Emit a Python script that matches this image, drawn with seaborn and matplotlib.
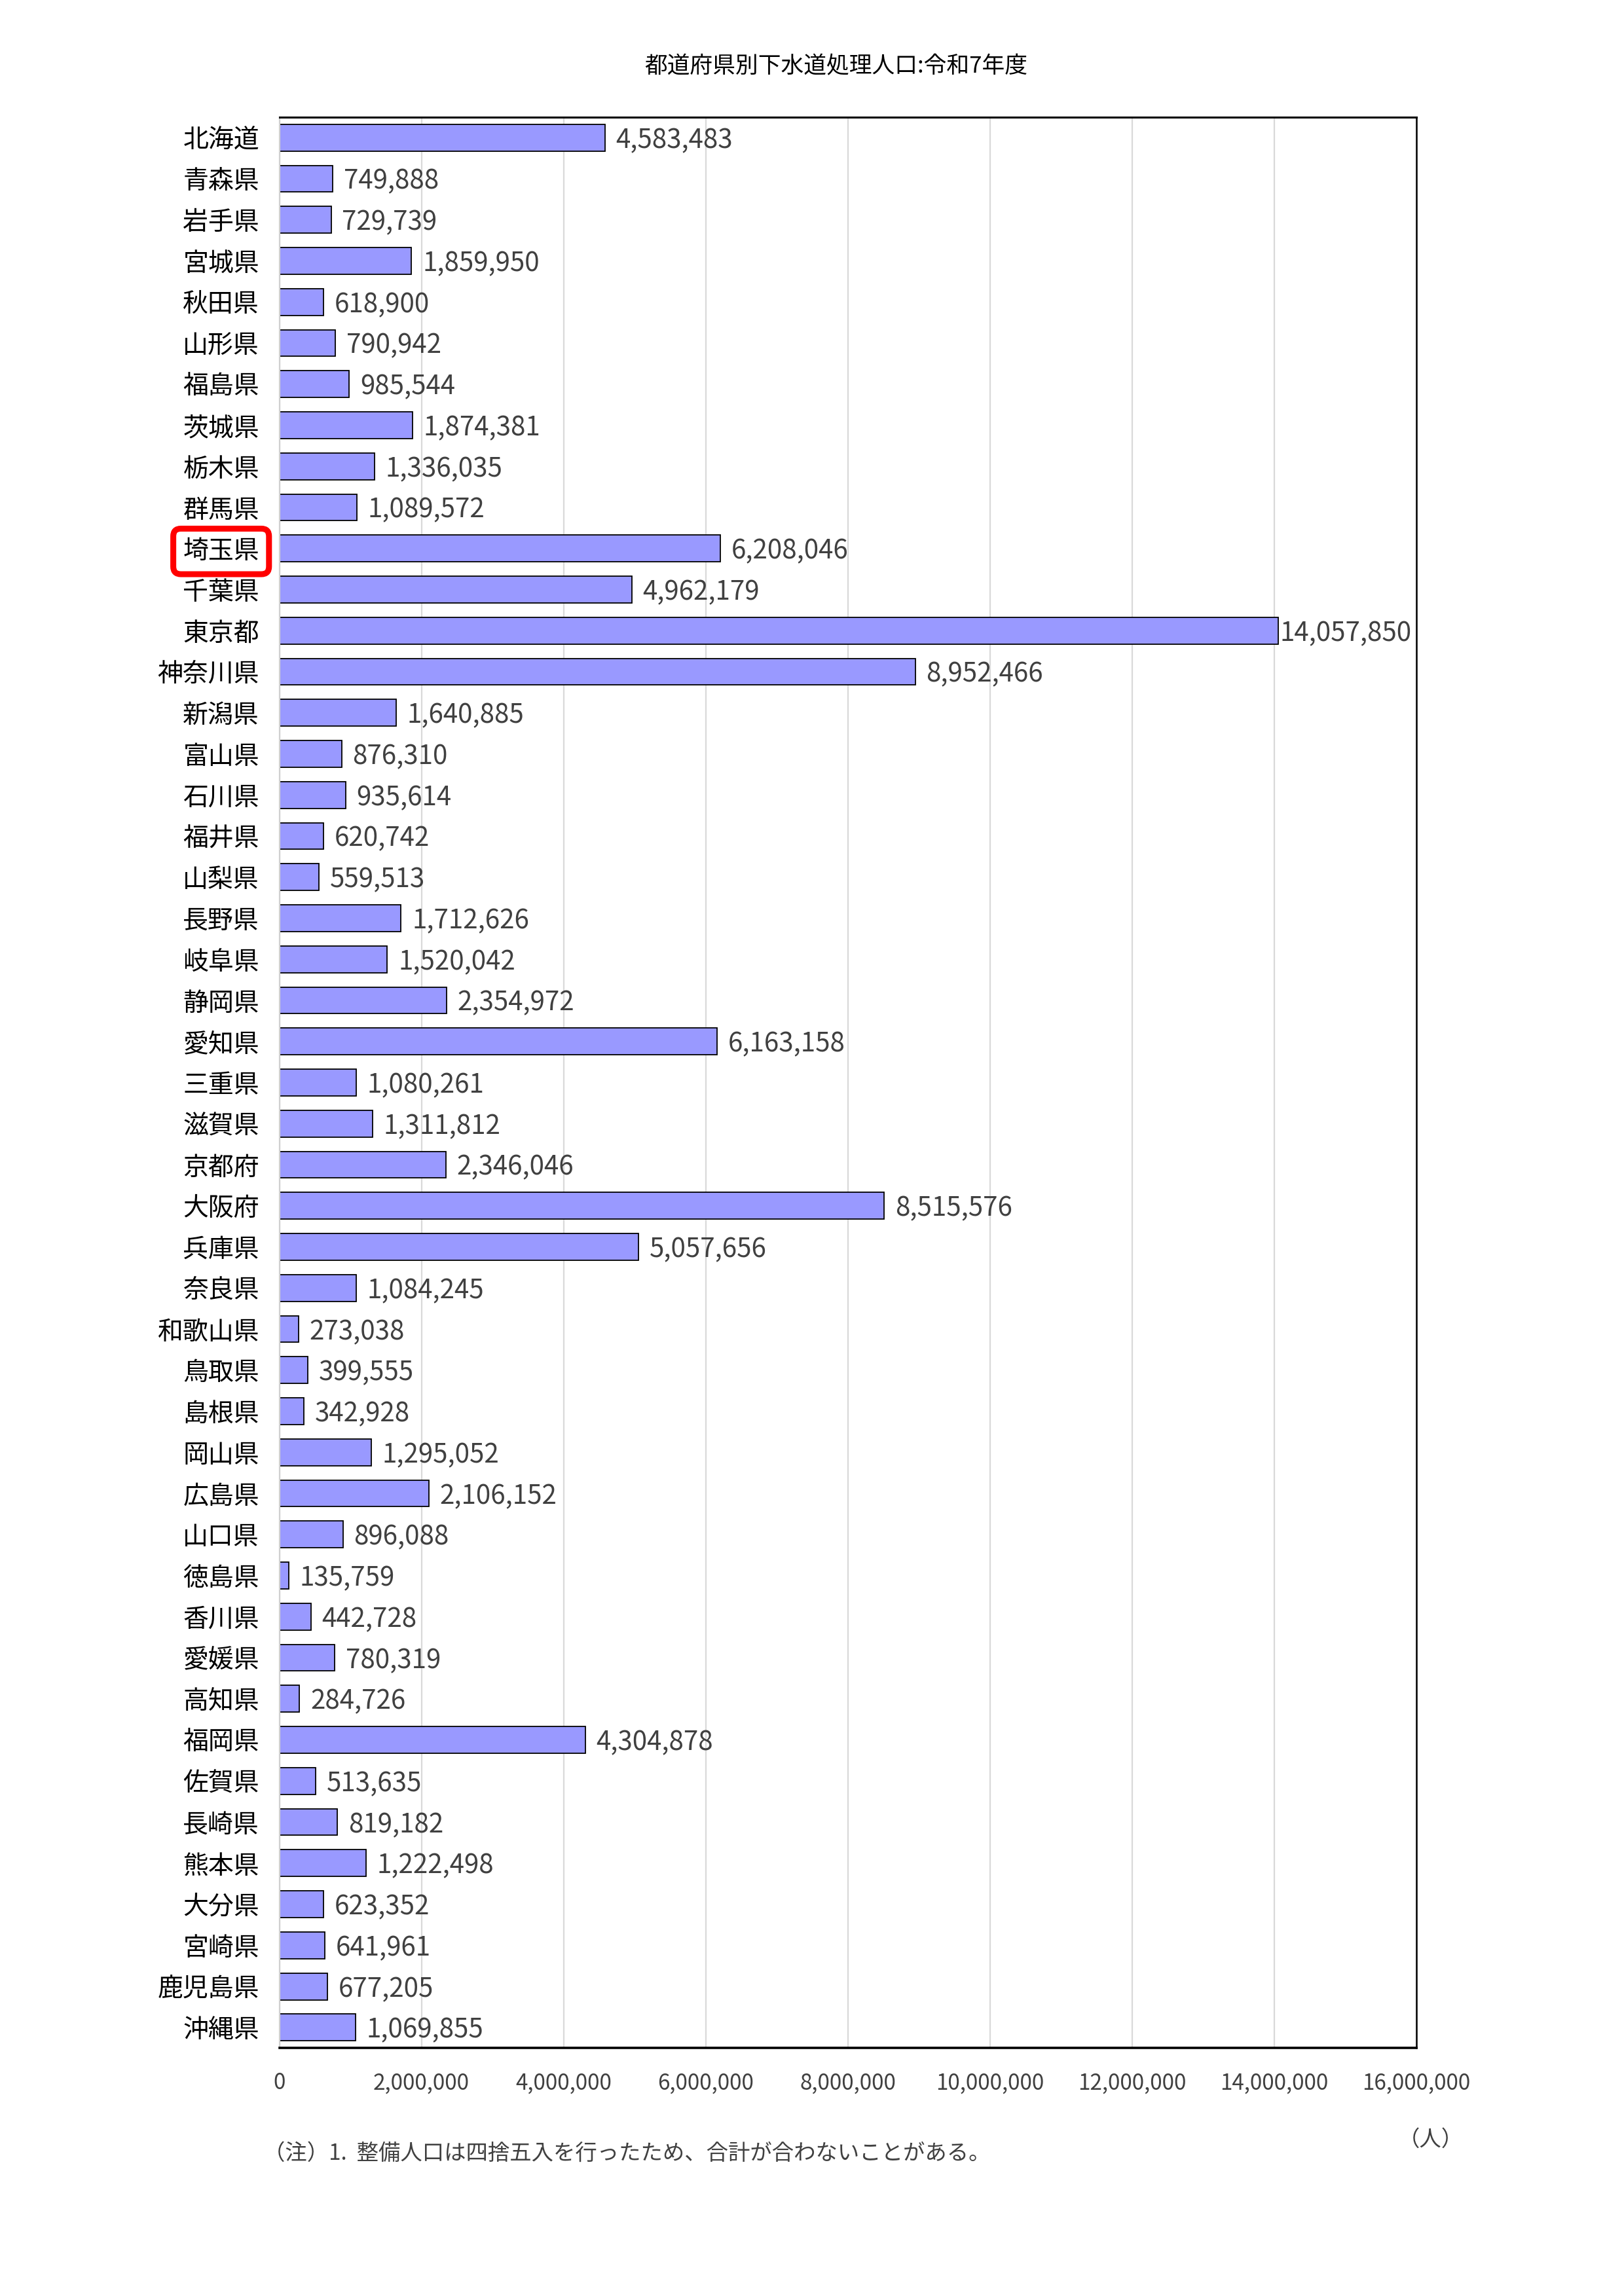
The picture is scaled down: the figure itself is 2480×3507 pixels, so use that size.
import seaborn as sns
import numpy as np
import pandas as pd
import matplotlib.pyplot as plt
from matplotlib.ticker import FuncFormatter

sns.set_theme(style="white")
plt.rcParams['font.family'] = ['Noto Sans CJK JP', 'DejaVu Sans']

prefs = ['北海道', '青森県', '岩手県', '宮城県', '秋田県', '山形県', '福島県',
         '茨城県', '栃木県', '群馬県', '埼玉県', '千葉県', '東京都', '神奈川県',
         '新潟県', '富山県', '石川県', '福井県', '山梨県', '長野県', '岐阜県',
         '静岡県', '愛知県', '三重県', '滋賀県', '京都府', '大阪府', '兵庫県',
         '奈良県', '和歌山県', '鳥取県', '島根県', '岡山県', '広島県', '山口県',
         '徳島県', '香川県', '愛媛県', '高知県', '福岡県', '佐賀県', '長崎県',
         '熊本県', '大分県', '宮崎県', '鹿児島県', '沖縄県']
population = [4583483, 749888, 729739, 1859950, 618900, 790942, 985544,
              1874381, 1336035, 1089572, 6208046, 4962179, 14057850, 8952466,
              1640885, 876310, 935614, 620742, 559513, 1712626, 1520042,
              2354972, 6163158, 1080261, 1311812, 2346046, 8515576, 5057656,
              1084245, 273038, 399555, 342928, 1295052, 2106152, 896088,
              135759, 442728, 780319, 284726, 4304878, 513635, 819182,
              1222498, 623352, 641961, 677205, 1069855]
highlight = '埼玉県'

df = pd.DataFrame({'pref': prefs, 'pop': population})

fig = plt.figure(figsize=(24.8, 35.07), dpi=100)
ax = fig.add_axes([0.172, 0.108, 0.700, 0.841])

sns.barplot(data=df, x='pop', y='pref', orient='h', color='#9999FF',
            saturation=1, edgecolor='black', linewidth=1.3, width=0.65, ax=ax)

ax.set_xlim(0, 16000000)
ax.set_xticks(np.arange(0, 16000001, 2000000))
ax.xaxis.set_major_formatter(FuncFormatter(lambda v, p: f'{int(v):,}'))
ax.set_xlabel('')
ax.set_ylabel('')
ax.grid(axis='x', color='#d9d9d9', linewidth=1.6)
ax.set_axisbelow(True)

ax.tick_params(axis='y', length=0, pad=22, labelsize=28, labelcolor='black')
ax.tick_params(axis='x', length=0, pad=26, labelsize=24, labelcolor='#404040')

for side in ['top', 'right', 'bottom']:
    ax.spines[side].set_color('black')
ax.spines['top'].set_linewidth(2.2)
ax.spines['bottom'].set_linewidth(2.6)
ax.spines['right'].set_linewidth(1.8)
ax.spines['left'].set_color('#d0d0d0')
ax.spines['left'].set_linewidth(1.6)

anns = ax.bar_label(ax.containers[0], labels=[f'{v:,}' for v in population],
                    padding=12, fontsize=29, color='#404040')
for ann in anns:
    ann.xyann = (12, -3)
anns[prefs.index('東京都')].xyann = (2, -3)

for lab in ax.get_yticklabels():
    if lab.get_text() == highlight:
        lab.set_bbox(dict(boxstyle='round,pad=0.38,rounding_size=0.3',
                          facecolor='none', edgecolor='#ff0000', linewidth=6.5))

fig.text(0.515, 0.971, '都道府県別下水道処理人口:令和7年度', ha='center', va='center',
         fontsize=25, color='black')
fig.text(0.162, 0.062, '（注）1.  整備人口は四捨五入を行ったため、合計が合わないことがある。',
         ha='left', va='center', fontsize=24, color='#404040')
fig.text(0.881, 0.068, '（人）', ha='center', va='center', fontsize=24, color='#404040')

fig.savefig('out.png', dpi=100, facecolor='white')
